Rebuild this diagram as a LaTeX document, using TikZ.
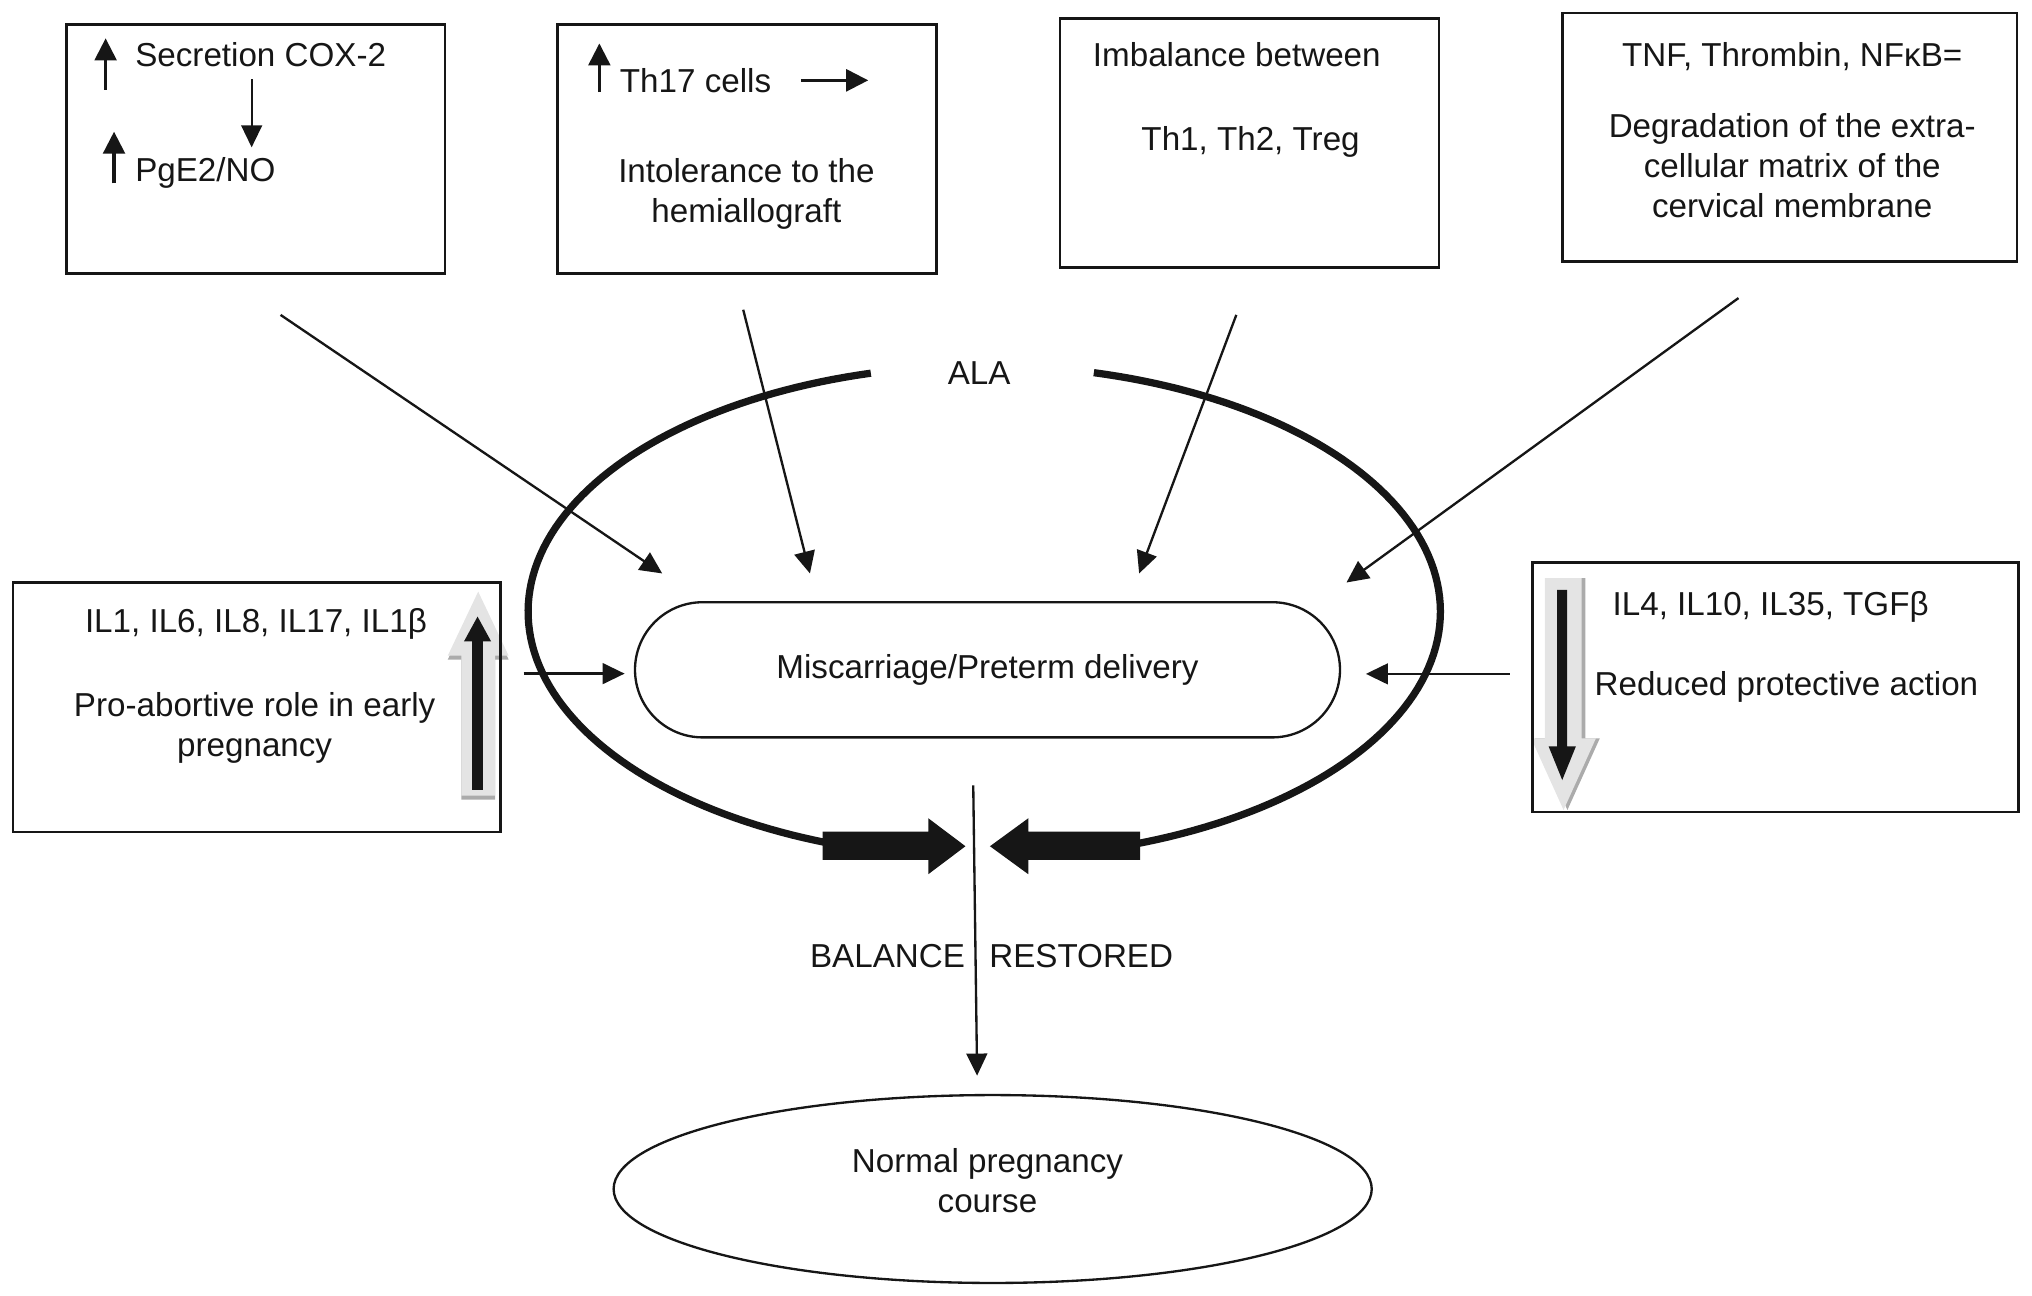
\documentclass[tikz,border=0pt]{standalone}
\usepackage{fontspec}
\setmainfont{Liberation Sans}
\usetikzlibrary{arrows.meta,shapes.geometric,shapes.misc}
\definecolor{lightgr}{HTML}{E4E4E4}
\definecolor{shadowgr}{HTML}{ABABAB}
\definecolor{blk}{HTML}{161616}
\begin{document}
\begin{tikzpicture}[x=0.5pt,y=-0.5pt,
  every node/.style={font=\fontsize{12.8pt}{15.5pt}\selectfont, inner sep=0pt, text=blk},
  box/.style={draw=blk, line width=1pt, rectangle},
  conn/.style={draw=blk, line width=0.9pt, -{Triangle[length=8.5pt,width=8pt]}},
  small/.style={draw=blk, line width=1.2pt, -{Triangle[length=8.5pt,width=8.4pt]}},
  txt/.style={align=center, anchor=base},
  ltxt/.style={anchor=base west}]
\useasboundingbox (0,0) rectangle (1568,1000);

% shadowed up arrow (left box)
\fill[shadowgr] (356,617) -- (356,509) -- (345.5,509) -- (369,459.5) -- (392.5,509) -- (382,509) -- (382,617) -- cycle;
\fill[lightgr] (356,614) -- (356,506) -- (345.5,506) -- (369,456.5) -- (392.5,506) -- (382,506) -- (382,614) -- cycle;
\fill[blk] (364.3,609.6) -- (364.3,495) -- (358,495) -- (368.5,475.8) -- (379,495) -- (372.7,495) -- (372.7,609.6) -- cycle;

% shadowed down arrow (right box)
\fill[shadowgr] (1195,446.2) -- (1223.4,446.2) -- (1223.4,569.7) -- (1234.5,569.7) -- (1209.5,625) -- (1184.5,569.7) -- (1195,569.7) -- cycle;
\fill[lightgr] (1192,446.2) -- (1220.4,446.2) -- (1220.4,569.7) -- (1231.5,569.7) -- (1206.5,625) -- (1181.5,569.7) -- (1192,569.7) -- cycle;
\fill[blk] (1201.6,455.2) -- (1209.3,455.2) -- (1209.3,576) -- (1216,576) -- (1205.5,601.9) -- (1195,576) -- (1201.6,576) -- cycle;

% boxes
\node[box, minimum width=146pt, minimum height=96pt] (b1) at (197.5,115) {};
\node[box, minimum width=146.25pt, minimum height=96pt] (b2) at (576.25,115) {};
\node[box, minimum width=146.25pt, minimum height=96.15pt] (b3) at (964.25,110.45) {};
\node[box, minimum width=175.5pt, minimum height=96pt] (b4) at (1381,106) {};
\node[box, minimum width=188pt, minimum height=96.25pt] (bl) at (198,545.75) {};
\node[box, minimum width=187.5pt, minimum height=96.3pt] (br) at (1370,530.3) {};

% texts in boxes (anchor base = baseline of the last line)
\node[ltxt] (t1) at (104,51.6) {Secretion COX-2};
\node[ltxt] (t2) at (104,140) {PgE2/NO};
\node[ltxt] (t3) at (478,71) {Th17 cells};
\node[txt] (t4) at (576,171.5) {Intolerance to the\\hemiallograft};
\node[ltxt] (t5) at (843,51) {Imbalance between};
\node[txt] (t6) at (965,116) {Th1, Th2, Treg};
\node[txt] (t7) at (1383,51) {TNF, Thrombin, NFκB=};
\node[txt] (t8) at (1383,168) {Degradation of the extra-\\cellular matrix of the\\cervical membrane};
\node[txt] (t10) at (197.5,488) {IL1, IL6, IL8, IL17, IL1β};
\node[txt] (t11) at (196.5,583.5) {Pro-abortive role in early\\pregnancy};
\node[ltxt] (t12) at (1244,474.8) {IL4, IL10, IL35, TGFβ};
\node[txt] (t13) at (1378.5,537) {Reduced protective action};

% small arrows in boxes
\coordinate (u1s) at (81.5,69.4);  \coordinate (u1e) at (81.5,29.6);
\coordinate (d1s) at (194.2,61.2); \coordinate (d1e) at (194.2,113.7);
\coordinate (u2s) at (88,141.5);   \coordinate (u2e) at (88,101.6);
\coordinate (u3s) at (462.5,71);   \coordinate (u3e) at (462.5,33.5);
\coordinate (r1s) at (618,62);     \coordinate (r1e) at (670,62);
\draw[small] (u1s) -- (u1e);
\draw[conn] (d1s) -- (d1e);
\draw[small] (u2s) -- (u2e);
\draw[small] (u3s) -- (u3e);
\draw[small] (r1s) -- (r1e);

% ALA broken ellipse
\draw[blk, line width=2.8pt] plot[domain=104.4:250, samples=90] ({759.5+352*cos(\x)},{472-190*sin(\x)});
\draw[blk, line width=2.8pt] plot[domain=-71:76.1, samples=90] ({759.5+352*cos(\x)},{472-190*sin(\x)});
\node[ltxt] (ala) at (731,296.5) {ALA};

% central nodes
\node[draw=blk, line width=0.9pt, rounded rectangle, minimum width=272pt, minimum height=52.15pt] (mis) at (762,516.85) {Miscarriage/Preterm delivery};
\node[draw=blk, line width=0.9pt, ellipse, minimum width=292.5pt, minimum height=72.5pt] (norm) at (766,917.5) {};
\node[txt] (normt) at (762,935.5) {Normal pregnancy\\course};

% connectors
\coordinate (a1s) at (216.5,243);  \coordinate (a1e) at (511,442.5);
\coordinate (a2s) at (573.5,239);  \coordinate (a2e) at (625,442.5);
\coordinate (a3s) at (954,243);    \coordinate (a3e) at (879,442.5);
\coordinate (a4s) at (1341.5,230); \coordinate (a4e) at (1039,449.5);
\coordinate (aLs) at (404,519.8);  \coordinate (aLe) at (482,519.8);
\coordinate (aRs) at (1165,520);   \coordinate (aRe) at (1054,520);
\coordinate (vs) at (751,606);     \coordinate (ve) at (754,830);
\draw[conn] (a1s) -- (a1e);
\draw[conn] (a2s) -- (a2e);
\draw[conn] (a3s) -- (a3e);
\draw[conn] (a4s) -- (a4e);
\draw[conn] (aLs) -- (aLe);
\draw[conn] (aRs) -- (aRe);
\draw[conn] (vs) -- (ve);

% block arrows
\fill[blk] (634.8,641.7) -- (716.3,641.7) -- (716.3,631.4) -- (745,653) -- (716.3,674.6) -- (716.3,663.6) -- (634.8,663.6) -- cycle;
\fill[blk] (879.8,641.7) -- (793.5,641.7) -- (793.5,631.4) -- (763.9,653) -- (793.5,674.6) -- (793.5,663.6) -- (879.8,663.6) -- cycle;

\node[anchor=base east] (bal) at (745,746.5) {BALANCE};
\node[ltxt] (res) at (763,746.5) {RESTORED};
\end{tikzpicture}
\end{document}
